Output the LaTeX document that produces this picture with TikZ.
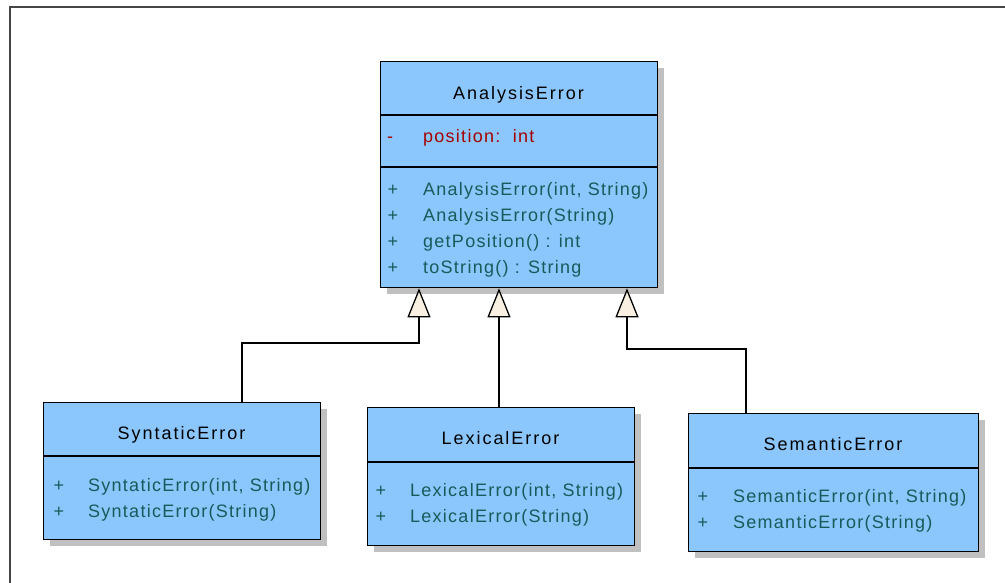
\documentclass[tikz,border=0pt]{standalone}
\usepackage{fontspec}
\setmainfont{Liberation Sans}
\newfontfamily\umlbody[LetterSpace=7]{Liberation Sans}
\newfontfamily\umlhead[LetterSpace=11]{Liberation Sans}
\usetikzlibrary{arrows.meta,shadows,calc}
\definecolor{classfill}{RGB}{139,199,252}
\definecolor{opcolor}{RGB}{25,90,90}
\definecolor{attrcolor}{RGB}{165,0,0}
\definecolor{headcream}{RGB}{250,240,225}
\definecolor{framegray}{RGB}{70,70,70}
\definecolor{shadowgray}{RGB}{192,192,192}

\begin{document}
\begin{tikzpicture}[x=1pt,y=-1pt,
  classbox/.style={draw=black, line width=1.3pt, fill=classfill, rectangle,
    anchor=north west, inner sep=0pt,
    drop shadow={shadow xshift=6pt, shadow yshift=-6pt, fill=shadowgray, opacity=1}},
  divider/.style={draw=black, line width=1.3pt},
  classname/.style={anchor=base, inner sep=0pt, text=black,
    font=\umlhead\fontsize{18}{20}\selectfont},
  member/.style={anchor=base west, inner sep=0pt, text=opcolor,
    font=\umlbody\fontsize{18}{20}\selectfont},
  attribute/.style={member, text=attrcolor},
  vis/.style={anchor=base, inner sep=0pt, text=opcolor,
    font=\umlbody\fontsize{18}{20}\selectfont},
  generalization/.style={draw=black, line width=1.3pt,
    -{Triangle[length=29pt,width=23pt,fill=headcream,line width=1.3pt]}}
]
\useasboundingbox (0,0) rectangle (1005,582);

% outer frame (continues past the right and bottom edges)
\draw[framegray, line width=2.5pt] (10,590) -- (10,7) -- (1015,7);

% ---- AnalysisError ----
\node[classbox, minimum width=277pt, minimum height=226pt] (ae) at (380,61) {};
\draw[divider] ($(ae.north west)+(0,54)$) -- ($(ae.north east)+(0,54)$);
\draw[divider] ($(ae.north west)+(0,106)$) -- ($(ae.north east)+(0,106)$);
\node[classname] (ae-name) at (518.5,99) {AnalysisError};
\node[vis, text=attrcolor] (ae-v1) at (390,142) {-};
\node[attribute] (ae-a1) at (423,142) {position:\ \ int};
\node[vis] (ae-v2) at (393,195) {+};
\node[member] (ae-m1) at (423,195) {AnalysisError(int, String)};
\node[vis] (ae-v3) at (393,221) {+};
\node[member] (ae-m2) at (423,221) {AnalysisError(String)};
\node[vis] (ae-v4) at (393,247) {+};
\node[member] (ae-m3) at (423,247) {getPosition() : int};
\node[vis] (ae-v5) at (393,273) {+};
\node[member] (ae-m4) at (423,273) {toString() : String};

% ---- SyntaticError ----
\node[classbox, minimum width=277pt, minimum height=137pt] (syn) at (43,402) {};
\draw[divider] ($(syn.north west)+(0,54)$) -- ($(syn.north east)+(0,54)$);
\node[classname] (syn-name) at (181.5,439) {SyntaticError};
\node[vis] (syn-v1) at (59,491) {+};
\node[member] (syn-m1) at (88,491) {SyntaticError(int, String)};
\node[vis] (syn-v2) at (59,517) {+};
\node[member] (syn-m2) at (88,517) {SyntaticError(String)};

% ---- LexicalError ----
\node[classbox, minimum width=267pt, minimum height=138pt] (lex) at (367,407) {};
\draw[divider] ($(lex.north west)+(0,55)$) -- ($(lex.north east)+(0,55)$);
\node[classname] (lex-name) at (500.5,444) {LexicalError};
\node[vis] (lex-v1) at (381,496) {+};
\node[member] (lex-m1) at (410,496) {LexicalError(int, String)};
\node[vis] (lex-v2) at (381,522) {+};
\node[member] (lex-m2) at (410,522) {LexicalError(String)};

% ---- SemanticError ----
\node[classbox, minimum width=290pt, minimum height=138pt] (sem) at (688,413) {};
\draw[divider] ($(sem.north west)+(0,55)$) -- ($(sem.north east)+(0,55)$);
\node[classname] (sem-name) at (833,450) {SemanticError};
\node[vis] (sem-v1) at (703,502) {+};
\node[member] (sem-m1) at (733,502) {SemanticError(int, String)};
\node[vis] (sem-v2) at (703,528) {+};
\node[member] (sem-m2) at (733,528) {SemanticError(String)};

% ---- generalization connectors ----
\coordinate (ae-in1) at ($(ae.south west)+(39,0)$);
\coordinate (ae-in2) at ($(ae.south west)+(119,0)$);
\coordinate (ae-in3) at ($(ae.south west)+(247,0)$);
\coordinate (syn-out) at ($(syn.north west)+(199,0)$);
\coordinate (lex-out) at (ae-in2 |- lex.north);
\coordinate (sem-out) at ($(sem.north west)+(58,0)$);

\draw[generalization] (syn-out) -- ++(0,-59) -| (ae-in1);
\draw[generalization] (lex-out) -- (ae-in2);
\draw[generalization] (sem-out) -- ++(0,-64) -| (ae-in3);
\end{tikzpicture}
\end{document}
